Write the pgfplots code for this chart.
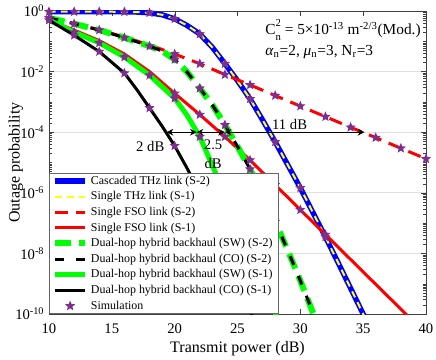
\documentclass[border=0pt]{standalone}
\usepackage{fontspec}
\setmainfont{Liberation Serif}
\usepackage{pgfplots}
\pgfplotsset{compat=1.18}
\usetikzlibrary{calc,arrows.meta}

\definecolor{simpurple}{RGB}{126,47,142}
\definecolor{thzblue}{RGB}{0,0,255}
\definecolor{thzyellow}{RGB}{255,255,0}
\definecolor{fsored}{RGB}{255,0,0}
\definecolor{hgreen}{RGB}{0,255,0}

% filled five-pointed star for the simulation points
\pgfdeclareplotmark{pstar}{%
  \pgfpathmoveto{\pgfpointpolar{90}{\pgfplotmarksize}}%
  \pgfpathlineto{\pgfpointpolar{126}{0.45\pgfplotmarksize}}%
  \pgfpathlineto{\pgfpointpolar{162}{\pgfplotmarksize}}%
  \pgfpathlineto{\pgfpointpolar{198}{0.45\pgfplotmarksize}}%
  \pgfpathlineto{\pgfpointpolar{234}{\pgfplotmarksize}}%
  \pgfpathlineto{\pgfpointpolar{270}{0.45\pgfplotmarksize}}%
  \pgfpathlineto{\pgfpointpolar{306}{\pgfplotmarksize}}%
  \pgfpathlineto{\pgfpointpolar{342}{0.45\pgfplotmarksize}}%
  \pgfpathlineto{\pgfpointpolar{18}{\pgfplotmarksize}}%
  \pgfpathlineto{\pgfpointpolar{54}{0.45\pgfplotmarksize}}%
  \pgfpathclose
  \pgfusepathqfill}

% minor ticks of the log axis
\def\minorlist{1e-9,1e-7,1e-5,1e-3,1e-1}
\foreach \e in {-10,...,-1}{\foreach \m in {2,...,9}{\xdef\minorlist{\minorlist,\m e\e}}}

\newcommand{\supsub}[2]{\rlap{\raisebox{0.55em}{\fontsize{8}{8}\selectfont #1}}\raisebox{-0.38em}{\fontsize{8}{8}\selectfont #2}}

\begin{document}
\begin{tikzpicture}
\begin{axis}[
    scale only axis,
    width=282.75pt, height=227.25pt,
    ymode=log,
    xmin=10, xmax=40, ymin=1e-10, ymax=1,
    xtick={10,15,...,40},
    ytick={1e-10,1e-8,1e-6,1e-4,1e-2,1},
    yticklabels={{10\textsuperscript{-10}},{10\textsuperscript{-8}},{10\textsuperscript{-6}},{10\textsuperscript{-4}},{10\textsuperscript{-2}},{10\textsuperscript{0}}},
    minor ytick/.expanded={\minorlist},
    ymajorgrids=true,
    major grid style={black!12, line width=0.5pt},
    tick align=inside,
    major tick length=4pt, minor tick length=2pt,
    axis line style={black!75}, tick style={black!75},
    tick label style={font=\fontsize{11}{13}\selectfont},
    xticklabel style={yshift=-4pt},
    /pgf/number format/assume math mode=true,
    label style={font=\fontsize{12}{14}\selectfont},
    xlabel={Transmit power (dB)},
    ylabel={Outage probability},
    xlabel style={at={(axis description cs:0.5,-0.1155)}, anchor=center},
    ylabel style={at={(axis description cs:-0.088,0.5)}, anchor=center},
    legend style={at={(0,0)}, anchor=south west, draw=black!60, fill=white,
        font=\fontsize{8.95}{10}\selectfont, inner ysep=0pt, inner xsep=2pt},
    legend cell align=left,
    legend image code/.code={\draw[mark repeat=2,mark phase=2,#1]
        plot coordinates {(0cm,0cm)(0.4cm,0cm)(0.8cm,0cm)};},
]
% Cascaded THz link (S-2)
\addplot[thzblue, line width=4pt] coordinates {
 (10,0.95)(12,0.95)(14,0.95)(16,0.94)(17,0.92)(18,0.87)(19,0.75)(20,0.55)
 (21,0.331)(22,0.174)(23,0.0631)(24,0.0182)(25,5.01e-3)(26,1.26e-3)
 (27,2.51e-4)(28,4.79e-5)(29,8.32e-6)(30,1.45e-6)(31,2.24e-7)(32,3.47e-8)
 (33,5.01e-9)(34,7.08e-10)(35,1.0e-10)(36,1.3e-11)};
% Single THz link (S-1)
\addplot[thzyellow, line width=1.5pt, dash pattern=on 5pt off 4pt] coordinates {
 (10,0.95)(12,0.95)(14,0.95)(16,0.94)(17,0.92)(18,0.87)(19,0.75)(20,0.55)
 (21,0.331)(22,0.174)(23,0.0631)(24,0.0182)(25,5.01e-3)(26,1.26e-3)
 (27,2.51e-4)(28,4.79e-5)(29,8.32e-6)(30,1.45e-6)(31,2.24e-7)(32,3.47e-8)
 (33,5.01e-9)(34,7.08e-10)(35,1.0e-10)(36,1.3e-11)};
% Single FSO link (S-2)
\addplot[fsored, line width=2.25pt, dash pattern=on 10pt off 6pt] coordinates {
 (10,0.589)(12,0.389)(14,0.240)(16,0.138)(18,0.0759)(20,0.0380)(22,0.0182)
 (24,7.94e-3)(26,3.63e-3)(28,1.62e-3)(30,7.24e-4)(32,3.24e-4)(34,1.45e-4)
 (36,6.61e-5)(38,2.95e-5)(40,1.32e-5)};
% Single FSO link (S-1)
\addplot[fsored, line width=2.25pt] coordinates {
 (10,0.501)(12,0.234)(14,0.105)(16,0.0380)(18,0.01)(20,1.91e-3)(22,3.80e-4)
 (24,7.08e-5)(26,1.20e-5)(28,1.82e-6)(30,2.75e-7)(32,4.17e-8)(34,6.31e-9)
 (36,9.55e-10)(38,1.45e-10)(40,2.2e-11)};
% Dual-hop hybrid backhaul (SW) (S-2)
\addplot[hgreen, line width=4.5pt, dash pattern=on 12pt off 6pt] coordinates {
 (10,0.589)(12,0.380)(14,0.234)(16,0.132)(18,0.0692)(19,0.0479)(20,0.0251)
 (21,9.55e-3)(22,2.82e-3)(23,7.94e-4)(24,1.74e-4)(25,3.39e-5)(26,6.03e-6)
 (27,8.91e-7)(28,1.12e-7)(29,1.26e-8)(30,1.26e-9)(31,1.12e-10)(32,1e-11)};
% Dual-hop hybrid backhaul (CO) (S-2)
\addplot[black, line width=2.25pt, dash pattern=on 7pt off 9pt] coordinates {
 (10,0.589)(12,0.380)(14,0.234)(16,0.132)(18,0.0692)(19,0.0479)(20,0.0251)
 (21,9.55e-3)(22,2.82e-3)(23,7.94e-4)(24,1.74e-4)(25,3.39e-5)(26,6.03e-6)
 (27,8.91e-7)(28,1.12e-7)(29,1.26e-8)(30,1.26e-9)(31,1.12e-10)(32,1e-11)};
% Dual-hop hybrid backhaul (SW) (S-1)
\addplot[hgreen, line width=3.75pt] coordinates {
 (10,0.501)(12,0.200)(14,0.0891)(16,0.0302)(18,7.59e-3)(20,1.32e-3)
 (21,3.55e-4)(22,7.08e-5)(23,7.94e-6)(24,8.91e-7)(25,1e-7)(26,1.05e-8)
 (27,1.07e-9)(28,1.07e-10)(29,1.1e-11)};
% Dual-hop hybrid backhaul (CO) (S-1)
\addplot[black, line width=2.25pt] coordinates {
 (10,0.501)(12,0.158)(14,0.0457)(16,8.91e-3)(17,2.51e-3)(18,6.31e-4)
 (19,1.58e-4)(20,3.55e-5)(21,6.31e-6)(22,1e-6)(23,1.26e-7)(24,1.41e-8)
 (25,1.41e-9)(26,1.26e-10)(27,1e-11)};
% Simulation
\addplot[only marks, mark=pstar, mark size=4pt, color=simpurple] coordinates {
 (10,0.95)(12,0.95)(14,0.95)(16,0.94)(18,0.87)(20,0.55)(22,0.174)(24,0.0182)
 (26,1.26e-3)(28,4.79e-5)(30,1.45e-6)(32,3.47e-8)
 (20,0.0380)(22,0.0182)(24,7.94e-3)(26,3.63e-3)(28,1.62e-3)(30,7.24e-4)
 (32,3.24e-4)(34,1.45e-4)(36,6.61e-5)(38,2.95e-5)(40,1.32e-5)
 (20,1.91e-3)(22,3.80e-4)(24,7.08e-5)(26,1.20e-5)(28,1.82e-6)(30,2.75e-7)(32,4.17e-8)
 (10,0.589)(12,0.380)(14,0.234)(16,0.132)(18,0.0692)(20,0.0251)(22,2.82e-3)
 (24,1.74e-4)(26,6.03e-6)(28,1.12e-7)
 (10,0.501)(12,0.200)(14,0.0891)(16,0.0302)(18,7.59e-3)(20,1.32e-3)(22,7.08e-5)(24,8.91e-7)
 (12,0.158)(14,0.0457)(16,8.91e-3)(18,6.31e-4)(20,3.55e-5)};
\legend{Cascaded THz link (S-2), Single THz link (S-1), Single FSO link (S-2),
  Single FSO link (S-1), Dual-hop hybrid backhaul (SW) (S-2),
  Dual-hop hybrid backhaul (CO) (S-2), Dual-hop hybrid backhaul (SW) (S-1),
  Dual-hop hybrid backhaul (CO) (S-1), Simulation}

% annotations
\draw[<->, >={Stealth[length=5pt,width=5pt]}, line width=0.7pt] (axis cs:19.36,1e-4) -- (axis cs:21.75,1e-4);
\draw[<->, >={Stealth[length=5pt,width=5pt]}, line width=0.7pt] (axis cs:21.75,1e-4) -- (axis cs:24.0,1e-4);
\draw[<->, >={Stealth[length=5pt,width=5pt]}, line width=0.7pt] (axis cs:24.0,1e-4) -- (axis cs:35.1,1e-4);
\node[font=\fontsize{11}{13}\selectfont] at (axis cs:18.06,3.5e-5) {2 dB};
\node[font=\fontsize{11}{13}\selectfont] at (axis cs:23.06,3.8e-5) {2.5};
\node[font=\fontsize{11}{13}\selectfont] at (axis cs:23.06,9.5e-6) {dB};
\node[font=\fontsize{11}{13}\selectfont] at (axis cs:29.15,1.74e-4) {11 dB};
\node[anchor=base west, font=\fontsize{11.5}{13}\selectfont, inner sep=0pt] at (axis cs:27.2,0.162)
  {C\supsub{2}{n} = 5×10\textsuperscript{-13} m\textsuperscript{-2/3}(Mod.)};
\node[anchor=base west, font=\fontsize{11.5}{13}\selectfont, inner sep=0pt] at (axis cs:27.2,0.0353)
  {\textit{α}\textsubscript{n}=2, \textit{μ}\textsubscript{n}=3, N\textsubscript{r}=3};
\end{axis}
\pgfresetboundingbox
\path ($(current axis.south west)+(-36.75pt,-34.5pt)$) rectangle ($(current axis.north east)+(7.5pt,8.25pt)$);
\end{tikzpicture}
\end{document}
